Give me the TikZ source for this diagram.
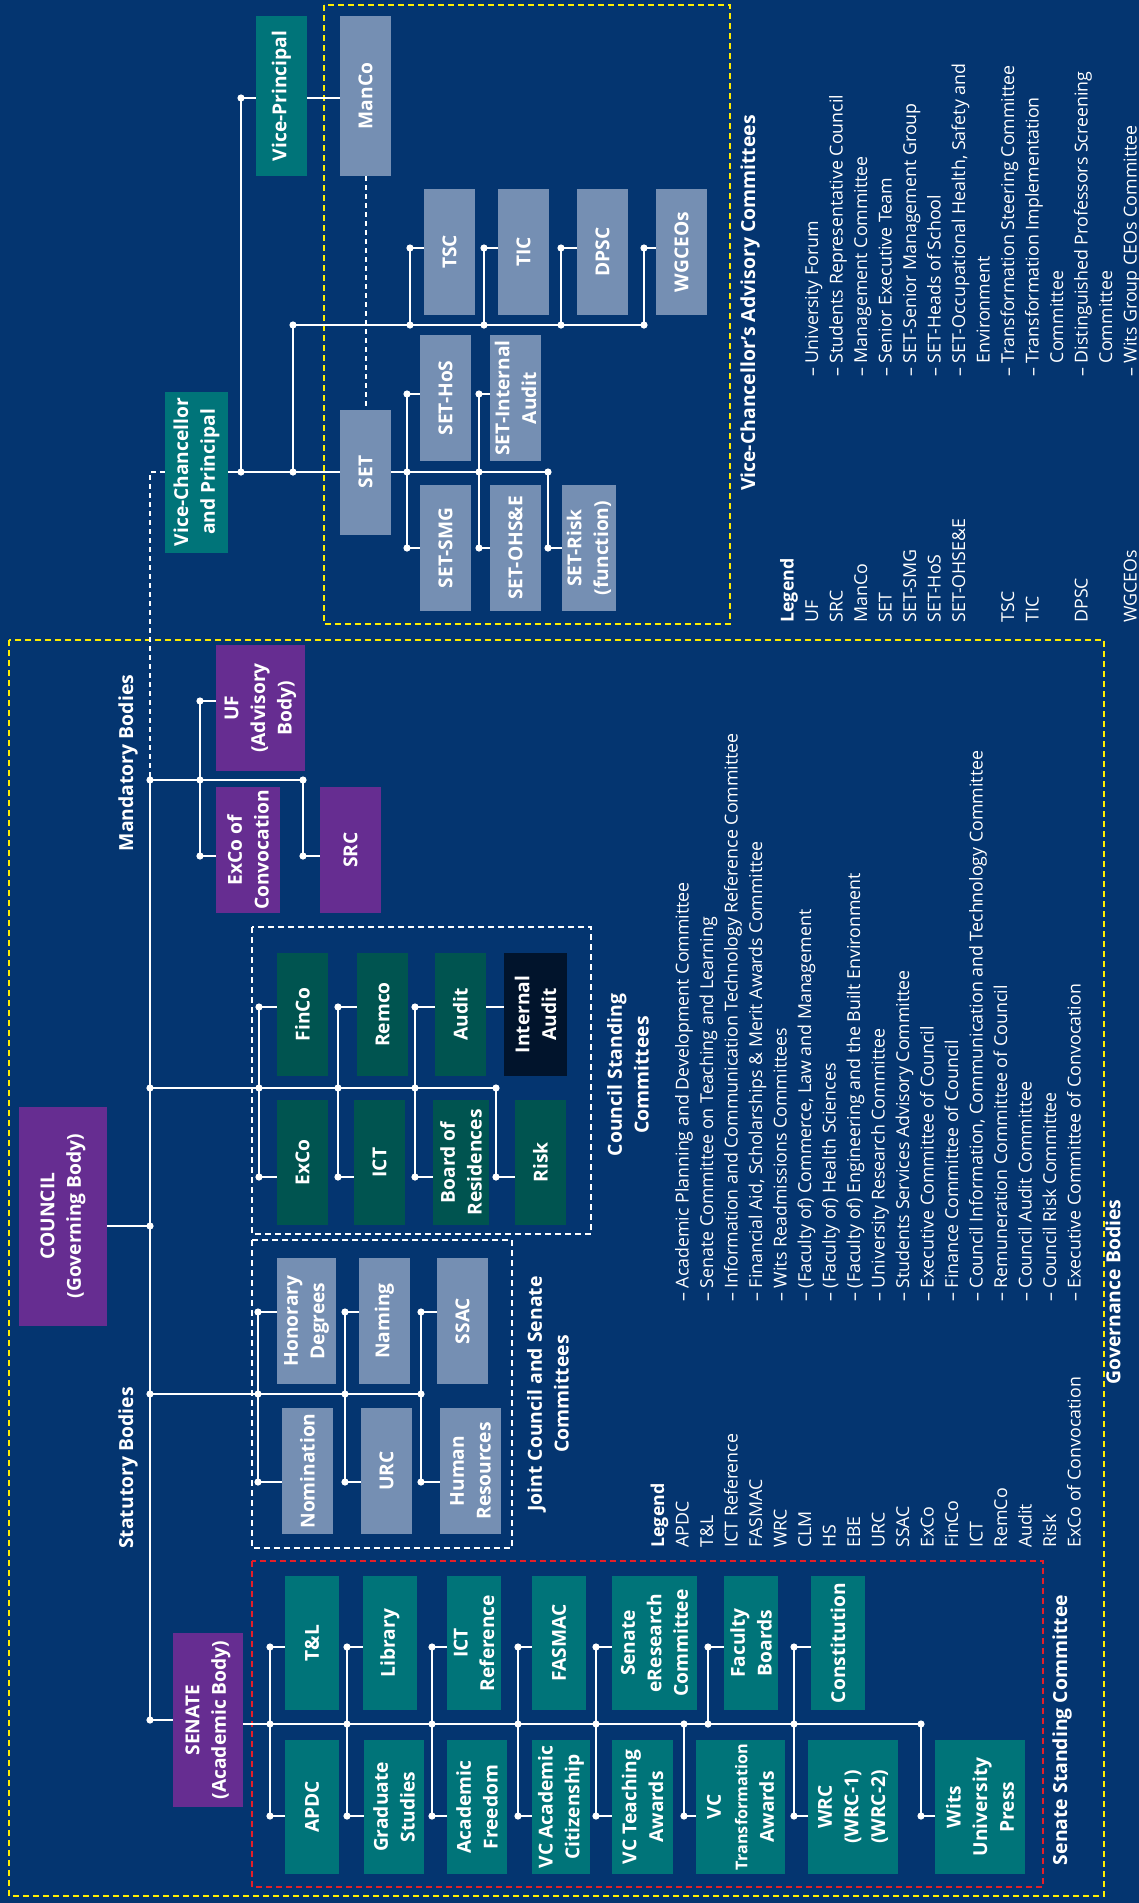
\documentclass[tikz,border=0pt]{standalone}
\usepackage{fontspec}
\setmainfont{Open Sans}
\definecolor{witsnavy}{RGB}{4,53,112}
\definecolor{witspurple}{RGB}{102,45,145}
\definecolor{witsteal}{RGB}{0,116,121}
\definecolor{witsgreen}{RGB}{0,84,80}
\definecolor{witsgrey}{RGB}{117,143,179}
\definecolor{witsink}{RGB}{1,20,44}
\definecolor{witsyellow}{RGB}{255,237,0}
\definecolor{witsred}{RGB}{230,30,40}
\newcommand\orgboxfont{\fontsize{9.6}{13.3}\selectfont\bfseries}
\newcommand\orgheadfont{\fontsize{9.7}{13.4}\selectfont\bfseries}
\newcommand\orglegfont{\fontsize{8.9}{12.25}\selectfont}
\tikzset{
  link/.style={white, line width=1pt},
  dlink/.style={white, line width=1pt, dash pattern=on 2.5pt off 2pt},
  frame/.style={line width=1pt, dash pattern=on 3pt off 2pt},
  box/.style={rotate=90, inner sep=0pt, align=center, text=white, font=\orgboxfont},
  sz/.style 2 args={minimum height=#1*0.5pt, minimum width=#2*0.5pt},
  purplebox/.style={box, fill=witspurple},
  tealbox/.style={box, fill=witsteal},
  greybox/.style={box, fill=witsgrey},
  greenbox/.style={box, fill=witsgreen},
  head/.style={rotate=90, inner sep=0pt, align=center, text=white, font=\orgheadfont},
  leg/.style={rotate=90, inner sep=0pt, anchor=base west, text=white, font=\orglegfont}
}
\begin{document}
\begin{tikzpicture}[x=0.5pt, y=-0.5pt]
  \fill[witsnavy] (0,0) rectangle (1139,1903);
  \useasboundingbox (0,0) rectangle (1139,1903);

  % dashed groups
  \draw[frame, witsyellow] (324,5) rectangle (730,624);
  \draw[frame, witsyellow] (9,640) rectangle (1104,1896);
  \draw[frame, white] (252,927) rectangle (591,1234);
  \draw[frame, white] (252,1240) rectangle (512,1548);
  \draw[frame, witsred] (252,1561) rectangle (1043,1887);

  % rows where the stubs meet the boxes
  \coordinate (rowvp) at (0,98);
  \coordinate (rowtsc) at (0,248);
  \coordinate (rowhos) at (0,394);
  \coordinate (rowsmg) at (0,548);
  \coordinate (rowuf) at (0,701);
  \coordinate (rowsrc) at (0,856);
  \coordinate (rowfin) at (0,1007);
  \coordinate (rowexco) at (0,1177);
  \coordinate (rowhon) at (0,1312);
  \coordinate (rownom) at (0,1482);
  \coordinate (rowtl) at (0,1647);
  \coordinate (rowapdc) at (0,1816);

  % Vice-Chancellor and advisory committees
  \node[tealbox, sz={51}{160}] (vp) at (281.5,96) {Vice-Principal};
  \node[greybox, sz={51}{160}] (manco) at (365.5,96) {ManCo};
  \node[tealbox, sz={63}{161}] (vc) at (196.5,472) {Vice-Chancellor\\and Principal};
  \node[greybox, sz={51}{125}] (set) at (365.5,472) {SET};
  \node[greybox, sz={51}{126}] (tsc) at (449.5,252) {TSC};
  \node[greybox, sz={51}{126}] (tic) at (523.5,252) {TIC};
  \node[greybox, sz={51}{126}] (dpsc) at (602.5,252) {DPSC};
  \node[greybox, sz={51}{126}] (wgceos) at (681.5,252) {WGCEOs};
  \node[greybox, sz={51}{126}] (sethos) at (445.5,398) {SET-HoS};
  \node[greybox, sz={51}{126}] (setia) at (515.5,398) {SET-Internal\\Audit};
  \node[greybox, sz={51}{126}] (setsmg) at (445.5,548) {SET-SMG};
  \node[greybox, sz={51}{126}] (setohs) at (515.5,548) {SET-OHS\&E};
  \node[greybox, sz={54}{126}] (setrisk) at (589,548) {SET-Risk\\(function)};

  % governance bodies
  \node[purplebox, sz={88}{219}] (council) at (63,1216) {COUNCIL\\(Governing Body)};
  \node[purplebox, sz={70}{174}] (senate) at (208,1720) {SENATE\\(Academic Body)};
  \node[purplebox, sz={89}{126}] (uf) at (260.5,708) {UF\\(Advisory\\Body)};
  \node[purplebox, sz={64}{126}] (exconv) at (248,850) {ExCo of\\Convocation};
  \node[purplebox, sz={61}{126}] (src) at (350.5,850) {SRC};

  % council standing committees
  \node[greenbox, sz={51}{123}] (finco) at (302.5,1014.5) {FinCo};
  \node[greenbox, sz={51}{123}] (remco) at (382.5,1014.5) {Remco};
  \node[greenbox, sz={51}{123}] (audit) at (460.5,1014.5) {Audit};
  \node[box, fill=witsink, sz={63}{123}] (intaudit) at (535.5,1014.5) {Internal\\Audit};
  \node[greenbox, sz={51}{125}] (exco) at (302.5,1162.5) {ExCo};
  \node[greenbox, sz={51}{125}] (ict) at (379.5,1162.5) {ICT};
  \node[greenbox, sz={56}{125}] (bor) at (461,1162.5) {Board of\\Residences};
  \node[greenbox, sz={51}{125}] (risk) at (540.5,1162.5) {Risk};

  % joint council and senate committees
  \node[greybox, sz={59}{126}] (hondeg) at (306.5,1321) {Honorary\\Degrees};
  \node[greybox, sz={51}{126}] (naming) at (384.5,1321) {Naming};
  \node[greybox, sz={51}{126}] (ssac) at (462.5,1321) {SSAC};
  \node[greybox, sz={51}{126}] (nomination) at (307.5,1471) {Nomination};
  \node[greybox, sz={51}{126}] (urc) at (386.5,1471) {URC};
  \node[greybox, sz={61}{126}] (hr) at (470.5,1471) {Human\\Resources};

  % senate standing committee
  \node[tealbox, sz={54}{134}] (tl) at (312,1643) {T\&L};
  \node[tealbox, sz={54}{134}] (library) at (390,1643) {Library};
  \node[tealbox, sz={54}{134}] (ictref) at (474,1643) {ICT\\Reference};
  \node[tealbox, sz={54}{134}] (fasmac) at (559,1643) {FASMAC};
  \node[tealbox, sz={85}{134}] (eres) at (654.5,1643) {Senate\\eResearch\\Committee};
  \node[tealbox, sz={54}{134}] (facb) at (751,1643) {Faculty\\Boards};
  \node[tealbox, sz={54}{134}] (constit) at (838,1643) {Constitution};
  \node[tealbox, sz={54}{134}] (apdc) at (312,1807) {APDC};
  \node[tealbox, sz={60}{134}] (gradst) at (394,1807) {Graduate\\Studies};
  \node[tealbox, sz={60}{134}] (acfree) at (477,1807) {Academic\\Freedom};
  \node[tealbox, sz={58}{134}] (vcac) at (561,1807) {VC Academic\\Citizenship};
  \node[tealbox, sz={61}{134}] (vcta) at (642.5,1807) {VC Teaching\\Awards};
  \node[tealbox, sz={89}{134}] (vctr) at (740.5,1807) {VC\\{\fontsize{8.1}{11}\selectfont Transformation}\\Awards};
  \node[tealbox, sz={90}{134}] (wrc) at (853,1807) {WRC\\(WRC-1)\\(WRC-2)};
  \node[tealbox, sz={90}{134}] (wup) at (980,1807) {Wits\\University\\Press};

  % junctions
  \coordinate (vcj1) at (241,472);
  \coordinate (vcj2) at (293,472);
  \coordinate (vcj3) at (293,325);
  \coordinate (vcj4) at (644,325);
  \coordinate (tscj) at (410,325);
  \coordinate (ticj) at (484,325);
  \coordinate (dpscj) at (561,325);
  \coordinate (setj1) at (407,472);
  \coordinate (setj2) at (479,472);
  \coordinate (setj3) at (548,472);
  \coordinate (m0) at (150,780);
  \coordinate (m1) at (150,1088);
  \coordinate (m2) at (150,1226);
  \coordinate (m3) at (150,1394);
  \coordinate (m4) at (150,1720);
  \coordinate (mj1) at (200,780);
  \coordinate (mj2) at (303,780);
  \coordinate (cj1) at (259,1088);
  \coordinate (cj2) at (338,1088);
  \coordinate (cj3) at (415,1088);
  \coordinate (cj4) at (496,1088);
  \coordinate (kj1) at (258,1394);
  \coordinate (kj2) at (345,1394);
  \coordinate (kj3) at (421,1394);
  \foreach \n/\x in {1/270, 2/347, 3/432, 4/518, 5/596, 6/684, 7/708, 8/794, 9/921}
    \coordinate (sj\n) at (\x,1724);

  % connectors, vice-chancellor side
  \draw[link] (vc.south) -- (set.north);
  \draw[link] (vcj1) |- (vp.north |- rowvp);
  \draw[link] (vp.south |- rowvp) -- (manco.north |- rowvp);
  \draw[dlink] (manco.west) -- (set.east);
  \draw[link] (vcj2) -- (vcj3) -- (vcj4);
  \foreach \b/\j in {tsc/tscj, tic/ticj, dpsc/dpscj, wgceos/vcj4}
    \draw[link] (\j) |- (\b.north |- rowtsc);
  \draw[link] (set.south) -- (setj3);
  \draw[link] (sethos.north |- rowhos) -| (setj1) |- (setsmg.north |- rowsmg);
  \draw[link] (setia.north |- rowhos) -| (setj2) |- (setohs.north |- rowsmg);
  \draw[link] (setj3) |- (setrisk.north |- rowsmg);
  \draw[dlink] (vc.north) -| (m0);

  % connectors, governance side
  \draw[link] (m0) -- (m4);
  \draw[link] (council.south |- m2) -- (m2);
  \draw[link] (m4) -- (senate.north);
  \draw[link] (m0) -- (mj2);
  \draw[link] (uf.north |- rowuf) -| (mj1) |- (exconv.north |- rowsrc);
  \draw[link] (mj2) |- (src.north |- rowsrc);
  \draw[link] (m1) -- (cj4);
  \draw[link] (finco.north |- rowfin) -| (cj1) |- (exco.north |- rowexco);
  \draw[link] (remco.north |- rowfin) -| (cj2) |- (ict.north |- rowexco);
  \draw[link] (audit.north |- rowfin) -| (cj3) |- (bor.north |- rowexco);
  \draw[link] (cj4) |- (risk.north |- rowexco);
  \draw[link] (audit.south |- rowfin) -- (intaudit.north |- rowfin);
  \draw[link] (m3) -- (kj3);
  \draw[link] (hondeg.north |- rowhon) -| (kj1) |- (nomination.north |- rownom);
  \draw[link] (naming.north |- rowhon) -| (kj2) |- (urc.north |- rownom);
  \draw[link] (ssac.north |- rowhon) -| (kj3) |- (hr.north |- rownom);
  \draw[link] (senate.south |- sj1) -- (sj9);
  \draw[link] (tl.north |- rowtl) -| (sj1) |- (apdc.north |- rowapdc);
  \draw[link] (library.north |- rowtl) -| (sj2) |- (gradst.north |- rowapdc);
  \draw[link] (ictref.north |- rowtl) -| (sj3) |- (acfree.north |- rowapdc);
  \draw[link] (fasmac.north |- rowtl) -| (sj4) |- (vcac.north |- rowapdc);
  \draw[link] (eres.north |- rowtl) -| (sj5) |- (vcta.north |- rowapdc);
  \draw[link] (sj6) |- (vctr.north |- rowapdc);
  \draw[link] (sj7) |- (facb.north |- rowtl);
  \draw[link] (constit.north |- rowtl) -| (sj8) |- (wrc.north |- rowapdc);
  \draw[link] (sj9) |- (wup.north |- rowapdc);

  % dots
  \foreach \p in {vcj1, vcj2, vcj3, vcj4, tscj, ticj, dpscj, setj1, setj2, setj3, m0, m1, m2, m3, m4, mj1, mj2, cj1, cj2, cj3, cj4, kj1, kj2, kj3, sj1, sj2, sj3, sj4, sj5, sj6, sj7, sj8, sj9}
    \fill[white] (\p) circle (1.8pt);
  \foreach \p/\r in {vcj1/rowvp, tscj/rowtsc, ticj/rowtsc, dpscj/rowtsc, vcj4/rowtsc, setj1/rowhos, setj1/rowsmg, setj2/rowhos, setj2/rowsmg, setj3/rowsmg, mj1/rowuf, mj1/rowsrc, mj2/rowsrc, cj1/rowfin, cj1/rowexco, cj2/rowfin, cj2/rowexco, cj3/rowfin, cj3/rowexco, cj4/rowexco, kj1/rowhon, kj1/rownom, kj2/rowhon, kj2/rownom, kj3/rowhon, kj3/rownom, sj1/rowtl, sj1/rowapdc, sj2/rowtl, sj2/rowapdc, sj3/rowtl, sj3/rowapdc, sj4/rowtl, sj4/rowapdc, sj5/rowtl, sj5/rowapdc, sj6/rowapdc, sj7/rowtl, sj8/rowtl, sj8/rowapdc, sj9/rowapdc}
    \fill[white] (\p |- \r) circle (1.8pt);

  % headings
  \node[head] (vchead) at (750,303) {Vice-Chancellor’s Advisory Committees};
  \node[head] (mandhead) at (128,763) {Mandatory Bodies};
  \node[head] (stathead) at (128,1468) {Statutory Bodies};
  \node[head] (cschead) at (628,1075) {Council Standing\\Committees};
  \node[head] (jointhead) at (548,1394) {Joint Council and Senate\\Committees};
  \node[head] (sschead) at (1062,1730) {Senate Standing Committee};
  \node[head] (govhead) at (1113,1292) {Governance Bodies};

  % governance legend
  \node[leg, font=\orglegfont\bfseries] (glegend) at (664,1548) {Legend};
  \foreach \i/\t in {1/APDC, 2/T\&L, 3/ICT Reference, 4/FASMAC, 5/WRC, 6/CLM, 7/HS, 8/EBE, 9/URC, 10/SSAC, 11/ExCo, 12/FinCo, 13/ICT, 14/RemCo, 15/Audit, 16/Risk, 17/ExCo of Convocation}
    \node[leg] (gabbr\i) at ({664+24.5*\i},1548) {\t};
  \foreach \i/\t in {1/Academic Planning and Development Committee, 2/Senate Committee on Teaching and Learning, 3/Information and Communication Technology Reference Committee, 4/{Financial Aid, Scholarships \& Merit Awards Committee}, 5/Wits Readmissions Committees, 6/{(Faculty of) Commerce, Law and Management}, 7/(Faculty of) Health Sciences, 8/(Faculty of) Engineering and the Built Environment, 9/University Research Committee, 10/Students Services Advisory Committee, 11/Executive Committee of Council, 12/Finance Committee of Council, 13/{Council Information, Communication and Technology Committee}, 14/Remuneration Committee of Council, 15/Council Audit Committee, 16/Council Risk Committee, 17/Executive Committee of Convocation}
    \node[leg] (gdesc\i) at ({664+24.5*\i},1302) {--~\t};

  % vice-chancellor legend
  \node[leg, font=\orglegfont\bfseries] (vlegend) at (793.5,623) {Legend};
  \foreach \i/\t in {1/UF, 2/SRC, 3/ManCo, 4/SET, 5/SET-SMG, 6/SET-HoS, 7/SET-OHSE\&E, 9/TSC, 10/TIC, 12/DPSC, 14/WGCEOs}
    \node[leg] (vabbr\i) at ({793.5+24.5*\i},623) {\t};
  \foreach \i/\t in {1/University Forum, 2/Students Representative Council, 3/Management Committee, 4/Senior Executive Team, 5/SET-Senior Management Group, 6/SET-Heads of School, 7/{SET-Occupational Health, Safety and}, 9/Transformation Steering Committee, 10/Transformation Implementation, 12/Distinguished Professors Screening, 14/Wits Group CEOs Committee}
    \node[leg] (vdesc\i) at ({793.5+24.5*\i},377) {--~\t};
  \foreach \i/\t in {8/Environment, 11/Committee, 13/Committee}
    \node[leg] (vdesc\i) at ({793.5+24.5*\i},377) {\phantom{--~}\t};
\end{tikzpicture}
\end{document}
